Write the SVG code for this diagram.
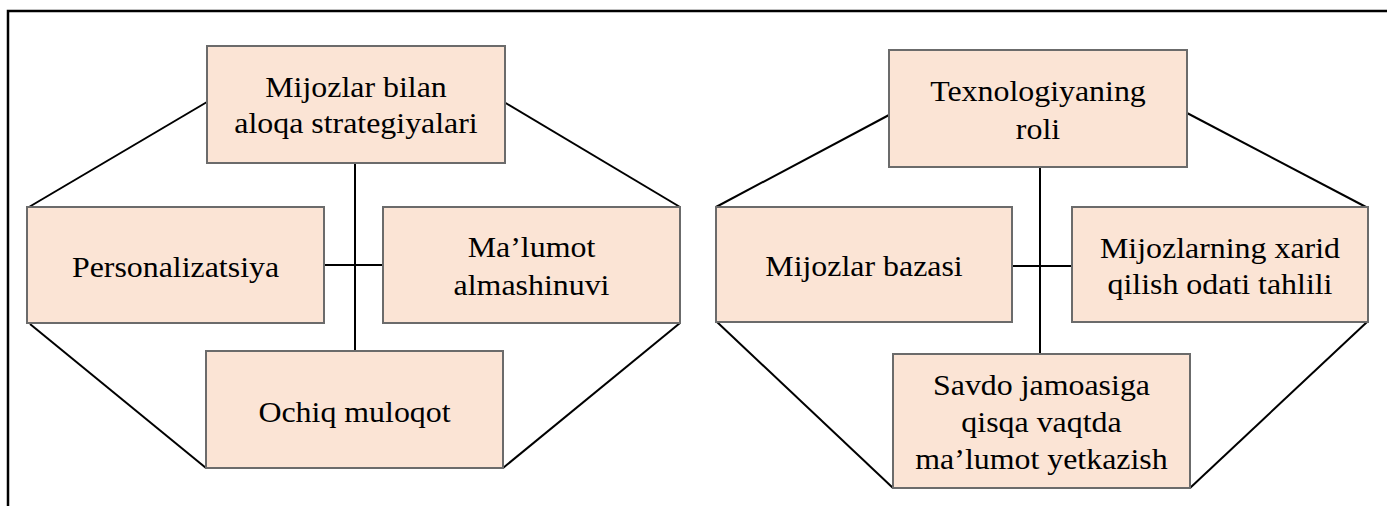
<svg xmlns="http://www.w3.org/2000/svg" width="1387" height="506" viewBox="0 0 1387 506">
<style>
.box{fill:#FBE4D5;stroke:#6b6b6b;stroke-width:2}
.t{font-family:'Liberation Serif','Times New Roman',serif;font-size:29px;fill:#000;text-anchor:middle}
.c line{stroke:#000;stroke-width:2;fill:none}
.frame{stroke:#000;stroke-width:2.5;fill:none}
</style>
<rect width="1387" height="506" fill="#fff"/>
<path class="frame" d="M8,506 V11 H1387"/>
<g class="c" id="connectors">
<line x1="355" y1="163" x2="355" y2="351"/>
<line x1="324" y1="265" x2="383" y2="265"/>
<line x1="207" y1="102" x2="29" y2="207"/>
<line x1="504" y1="102" x2="680" y2="207"/>
<line x1="30" y1="324" x2="206" y2="468"/>
<line x1="680" y1="323" x2="503" y2="468"/>
<line x1="1040" y1="167" x2="1040" y2="354"/>
<line x1="1012" y1="266" x2="1072" y2="266"/>
<line x1="889" y1="115" x2="716" y2="207"/>
<line x1="1187" y1="113" x2="1366" y2="207"/>
<line x1="717" y1="322" x2="893" y2="488"/>
<line x1="1367" y1="322" x2="1190" y2="488"/>
</g>
<g id="n1">
<rect class="box" x="207" y="46" width="298" height="117"/>
<text class="t" transform="translate(356 0) scale(1.1 1)"><tspan x="0" y="97">Mijozlar bilan</tspan><tspan x="0" y="133">aloqa strategiyalari</tspan></text>
</g>
<g id="n2">
<rect class="box" x="27" y="207" width="297" height="116"/>
<text class="t" transform="translate(175.5 0) scale(1.1 1)"><tspan x="0" y="277">Personalizatsiya</tspan></text>
</g>
<g id="n3">
<rect class="box" x="383" y="207" width="297" height="116"/>
<text class="t" transform="translate(531.5 0) scale(1.1 1)"><tspan x="0" y="257">Ma’lumot</tspan><tspan x="0" y="295">almashinuvi</tspan></text>
</g>
<g id="n4">
<rect class="box" x="206" y="351" width="297" height="117"/>
<text class="t" transform="translate(354.5 0) scale(1.1 1)"><tspan x="0" y="422">Ochiq muloqot</tspan></text>
</g>
<g id="n5">
<rect class="box" x="889" y="50" width="298" height="117"/>
<text class="t" transform="translate(1038 0) scale(1.1 1)"><tspan x="0" y="101">Texnologiyaning</tspan><tspan x="0" y="139">roli</tspan></text>
</g>
<g id="n6">
<rect class="box" x="716" y="207" width="296" height="115"/>
<text class="t" transform="translate(864 0) scale(1.1 1)"><tspan x="0" y="276">Mijozlar bazasi</tspan></text>
</g>
<g id="n7">
<rect class="box" x="1072" y="207" width="296" height="115"/>
<text class="t" transform="translate(1220 0) scale(1.1 1)"><tspan x="0" y="258">Mijozlarning xarid</tspan><tspan x="0" y="294">qilish odati tahlili</tspan></text>
</g>
<g id="n8">
<rect class="box" x="893" y="354" width="297" height="134"/>
<text class="t" transform="translate(1041.5 0) scale(1.1 1)"><tspan x="0" y="395">Savdo jamoasiga</tspan><tspan x="0" y="432">qisqa vaqtda</tspan><tspan x="0" y="469">ma’lumot yetkazish</tspan></text>
</g>
</svg>
